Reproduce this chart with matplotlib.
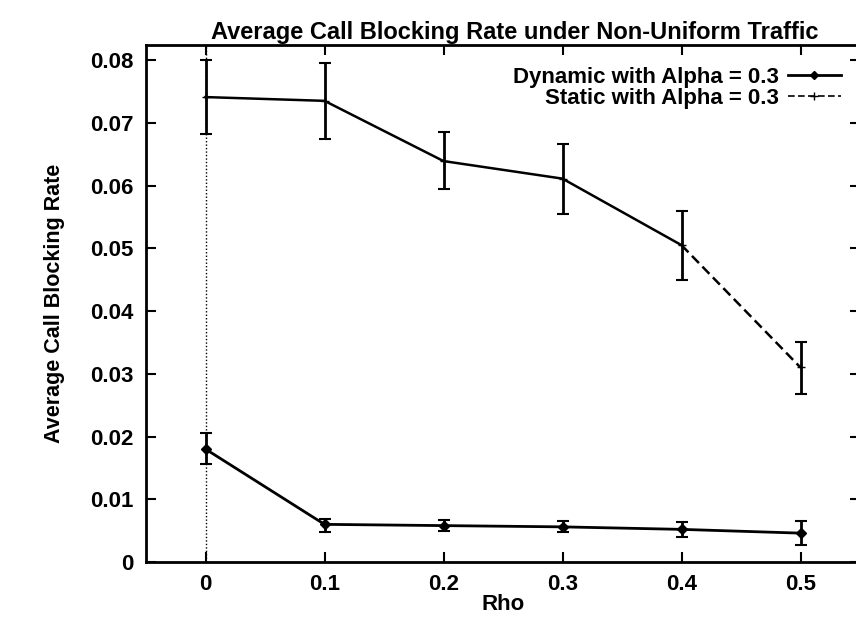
import numpy as np
import matplotlib
matplotlib.use("Agg")
import matplotlib.pyplot as plt
from matplotlib.lines import Line2D

plt.rcParams['font.family'] = ['Liberation Sans', 'DejaVu Sans']
plt.rcParams['font.weight'] = 'bold'
plt.rcParams['axes.labelweight'] = 'bold'

rho = [0.0, 0.1, 0.2, 0.3, 0.4, 0.5]

dynamic = [0.0180, 0.0060, 0.0058, 0.0056, 0.0052, 0.0046]
dynamic_lo = [0.0156, 0.0048, 0.0049, 0.0048, 0.0040, 0.0027]
dynamic_hi = [0.0205, 0.0069, 0.0067, 0.0066, 0.0063, 0.0066]

static = [0.0741, 0.0735, 0.0639, 0.0611, 0.0505, 0.0310]
static_lo = [0.0682, 0.0674, 0.0594, 0.0555, 0.0449, 0.0268]
static_hi = [0.0800, 0.0796, 0.0685, 0.0667, 0.0560, 0.0351]

labels = ["Dynamic with Alpha = 0.3", "Static with Alpha = 0.3"]

rho = np.array(rho)
dynamic = np.array(dynamic)
static = np.array(static)
dyn_err = [dynamic - np.array(dynamic_lo), np.array(dynamic_hi) - dynamic]
sta_err = [static - np.array(static_lo), np.array(static_hi) - static]

fig = plt.figure(figsize=(8.56, 6.25), dpi=100)
ax = fig.add_axes([146 / 856, 63 / 625, 714 / 856, 517 / 625])

# gnuplot style dotted zero axis
ax.axvline(0, color='k', ls=(0, (1, 1.5)), lw=1.0, zorder=1)

ax.errorbar(rho, dynamic, yerr=dyn_err, color='k', lw=2.0, marker='D', ms=5,
            capsize=4, capthick=1.5, elinewidth=2.0, zorder=3)
ax.errorbar(rho, static, yerr=sta_err, color='k', lw=0, marker='+', ms=6,
            capsize=4, capthick=1.5, elinewidth=2.0, zorder=3)
ax.plot(rho[:5], static[:5], color='k', lw=1.8, zorder=2)
ax.plot(rho[4:], static[4:], color='k', lw=1.8, ls=(0, (4, 2)), zorder=2)

ax.set_xlim(-0.05, 0.55)
ax.set_ylim(0, 0.0824)
ax.set_xticks(rho)
ax.set_xticklabels(["0", "0.1", "0.2", "0.3", "0.4", "0.5"])
ax.set_yticks([0, 0.01, 0.02, 0.03, 0.04, 0.05, 0.06, 0.07, 0.08])
ax.set_yticklabels(["0", "0.01", "0.02", "0.03", "0.04", "0.05", "0.06", "0.07", "0.08"])
ax.tick_params(direction='in', top=True, right=True, length=7, width=1.5,
               labelsize=16, pad=9)
for s in ax.spines.values():
    s.set_linewidth(2)

ax.set_xlabel("Rho", fontsize=16, labelpad=-1)
ax.set_ylabel("Average Call Blocking Rate", fontsize=15.5, labelpad=18)
fig.text(515 / 856, 1 - 33 / 625, "Average Call Blocking Rate under Non-Uniform Traffic",
         fontsize=17, ha='center', va='center')

handles = [Line2D([], [], color='k', lw=2.0, marker='D', ms=4),
           Line2D([], [], color='k', lw=1.2, ls=(0, (4, 2)), marker='+', ms=6)]
fig.legend(handles, labels, loc='upper right', bbox_to_anchor=(850 / 856, 1 - 58 / 625),
           frameon=False, markerfirst=False, fontsize=16, handlelength=2.4,
           labelspacing=0.0, handletextpad=0.4, borderaxespad=0)

fig.savefig("out.png", dpi=100)
